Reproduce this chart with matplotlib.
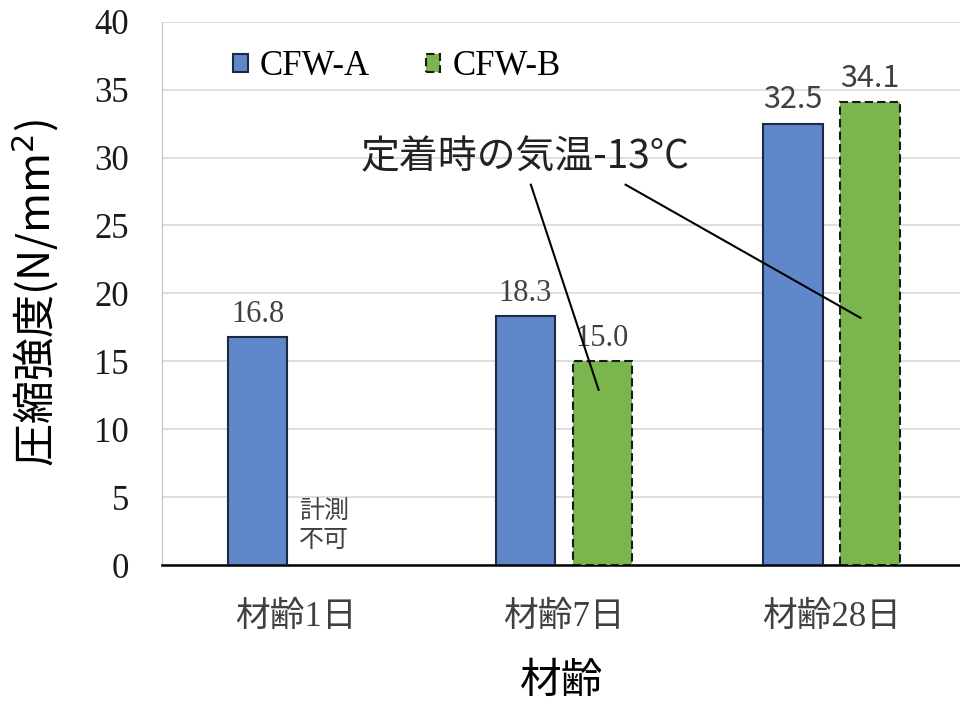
import numpy as np
import matplotlib.pyplot as plt

ages = ['材齢1日', '材齢7日', '材齢28日']
cfw_a = [16.8, 18.3, 32.5]
cfw_b = [np.nan, 15.0, 34.1]   # 1日は計測不可
yticks = [0, 5, 10, 15, 20, 25, 30, 35, 40]

serif = ['Liberation Serif', 'Noto Sans CJK JP']
sans = ['Noto Sans CJK JP', 'DejaVu Sans']

fig = plt.figure(figsize=(9.6, 7.01), dpi=100)
ax = fig.add_axes([0.169, 0.194, 0.831, 0.775])

x = np.arange(len(ages))
w = 0.222
off = 0.144
ax.bar(x - off, cfw_a, w, color='#5f87ca', edgecolor='#1c2a44', linewidth=1.5, label='CFW-A', zorder=3)
ax.bar(x + off, cfw_b, w, color='#7ab54e', edgecolor='#1a1a1a', linewidth=1.5, linestyle=(0, (4, 2)),
       label='CFW-B', zorder=3)

# value labels
for i, v in enumerate(cfw_a):
    fam = sans if v > 30 else serif
    ax.text(x[i] - off, v + 0.6, f'{v:.1f}', ha='center', va='bottom', fontsize=22,
            family=fam, color='#404040')
for i, v in enumerate(cfw_b):
    if np.isnan(v):
        continue
    fam = sans if v > 30 else serif
    ax.text(x[i] + off, v + 0.6, f'{v:.1f}', ha='center', va='bottom', fontsize=22,
            family=fam, color='#404040')
ax.text(0.105, 2.9, '計測\n不可', ha='center', va='center', fontsize=18,
        family=sans, color='#404040', linespacing=1.1)

# annotation
ax.text(0.854, 30.0, '定着時の気温-13°C', ha='center', va='center', fontsize=28, family=sans, color='#222222')
ax.plot([0.877, 1.13], [28.0, 12.9], color='black', lw=1.5, zorder=4)
ax.plot([1.231, 2.108], [28.0, 18.2], color='black', lw=1.5, zorder=4)

ax.set_xlim(-0.5, 2.48)
ax.set_ylim(0, 40)
ax.set_yticks(yticks)
ax.set_xticks(x)
ax.set_xticklabels(ages, family=serif, fontsize=25, color='#404040')
for lbl in ax.get_yticklabels():
    lbl.set_family(serif)
    lbl.set_fontsize(25)
    lbl.set_color('#1a1a1a')
ax.tick_params(length=0)
ax.tick_params(axis='y', pad=24)
ax.tick_params(axis='x', pad=26)
ax.yaxis.grid(True, color='#d9d9d9', lw=1.2, zorder=0)
ax.set_axisbelow(True)
for s in ['top', 'right']:
    ax.spines[s].set_visible(False)
ax.spines['left'].set_color('#bfbfbf')
ax.spines['bottom'].set_color('black')
ax.spines['bottom'].set_linewidth(1.8)

ax.set_ylabel('圧縮強度(N/mm$^2$)', family=sans, fontsize=31, labelpad=24)
ax.set_xlabel('材齢', family=sans, fontsize=30, labelpad=19)

leg = ax.legend(loc='upper left', bbox_to_anchor=(0.05, 1.005), ncol=2, frameon=False,
                prop={'family': serif, 'size': 25}, handlelength=0.42, handleheight=0.42,
                columnspacing=1.6, handletextpad=0.35)

fig.savefig('out.png', dpi=100)
